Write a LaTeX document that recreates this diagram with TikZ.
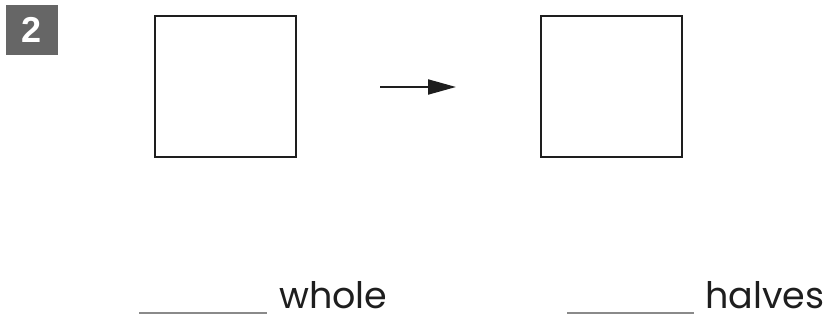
\documentclass[tikz,border=0pt]{standalone}
\usepackage{fontspec}
\setmainfont{Poppins}
\newfontfamily\badgefont{Liberation Sans}
\usetikzlibrary{arrows.meta}
\definecolor{badgegray}{HTML}{666666}
\definecolor{inkdark}{HTML}{1E1E1E}
\definecolor{linegray}{HTML}{8A8A8A}
\tikzset{
  sqbox/.style={draw=inkdark, line width=2.4pt, fill=white},
  blank/.style={draw=linegray, line width=2pt},
  word/.style={anchor=base west, inner sep=0pt, text=inkdark, font=\fontsize{36.5}{36.5}\selectfont},
}
\begin{document}
\begin{tikzpicture}[x=1pt,y=-1pt]
\useasboundingbox (0,0) rectangle (828,321);
\node[fill=badgegray, minimum width=52pt, minimum height=50pt, inner sep=0pt, text=white, font=\badgefont\bfseries\fontsize{36}{36}\selectfont] (badge) at (32,30) {2};
\node[sqbox, minimum width=141pt, minimum height=141pt, inner sep=0pt] (sqA) at (225.5,86.5) {};
\node[sqbox, minimum width=141pt, minimum height=141pt, inner sep=0pt] (sqB) at (611.5,86.5) {};
\coordinate (arS) at (380,87);
\coordinate (arE) at (456,87);
\draw[line width=2pt, inkdark, -{Triangle[length=28pt,width=15pt]}] (arS) -- (arE);
\coordinate (b1s) at (139,313);
\coordinate (b1e) at (267,313);
\draw[blank] (b1s) -- (b1e);
\node[word] (w1) at (279,308) {whole};
\coordinate (b2s) at (567,313);
\coordinate (b2e) at (694,313);
\draw[blank] (b2s) -- (b2e);
\node[word] (w2) at (705,308) {halves};
\end{tikzpicture}
\end{document}
